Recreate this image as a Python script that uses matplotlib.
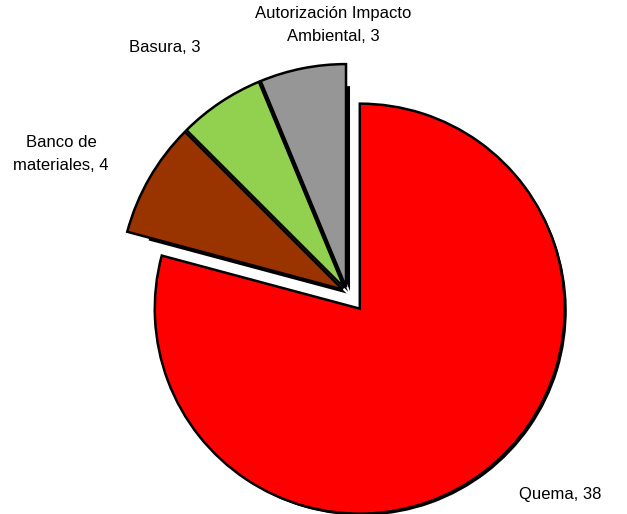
import matplotlib
matplotlib.use('Agg')
import matplotlib.pyplot as plt

labels = ['Quema', 'Banco de\nmateriales', 'Basura', 'Autorización Impacto\nAmbiental']
values = [38, 4, 3, 3]
colors = ['#ff0000', '#993300', '#92d050', '#969696']
explode = [21, 5, 5, 5]  # in pixels

plt.rcParams['font.family'] = ['Liberation Sans', 'DejaVu Sans']

fig = plt.figure(figsize=(6.27, 5.14), dpi=100)
ax = fig.add_axes([0, 0, 1, 1])

# drop shadows (smaller, shifted down-right)
shadows, _ = ax.pie(values, radius=205, center=(351, 218), startangle=90,
                    counterclock=False, colors=['black'] * len(values),
                    explode=explode, wedgeprops=dict(linewidth=0))
for w in shadows:
    w.set_zorder(1)

wedges, _ = ax.pie(values, radius=223, center=(347, 222), startangle=90,
                   counterclock=False, colors=colors, explode=explode,
                   wedgeprops=dict(edgecolor='black', linewidth=1.8))
wedges[0].set_radius(205)
cx, cy = wedges[0].center
shadows[0].set_center((cx + 2, cy - 2))
for w in wedges:
    w.set_zorder(2)

# labels
label_pos = [(560, 20), (61, 360), (165, 466), (333, 489)]
for lab, val, (x, y) in zip(labels, values, label_pos):
    ax.text(x, y, f'{lab}, {val}', ha='center', va='center', fontsize=12,
            color='black', linespacing=1.6)

ax.set_xlim(0, 627)
ax.set_ylim(0, 514)
ax.set_axis_off()

fig.savefig('out.png', dpi=100)
